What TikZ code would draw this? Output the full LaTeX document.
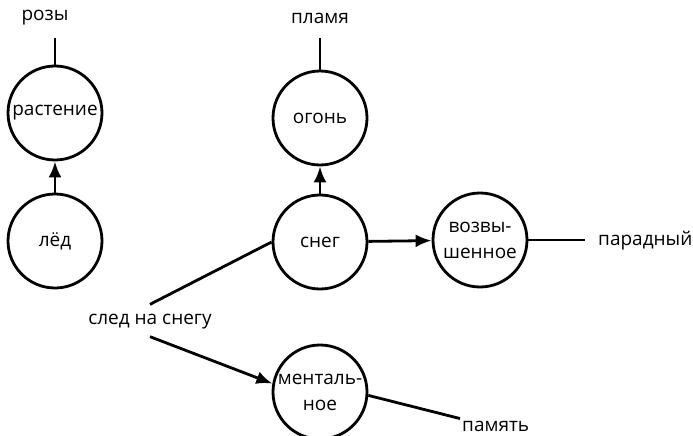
\documentclass[tikz,border=0pt]{standalone}
\usepackage{fontspec}
\setmainfont{Open Sans}
\usetikzlibrary{arrows.meta}
\tikzset{
    concept/.style={draw, circle, line width=2.8pt, minimum size=94pt, inner sep=0pt, align=center},
    word/.style={inner sep=2pt},
    link/.style={line width=2.8pt},
    arrowlink/.style={line width=2.8pt, -{Latex[length=16pt, width=13pt]}}
}
\begin{document}
\begin{tikzpicture}[x=1pt, y=-1pt, font=\fontsize{19}{26}\selectfont]
    \useasboundingbox (0,0) rectangle (693,436);
    % Draw the circles
    \node[concept] (rast) at (55,113) {растение};
    \node[concept] (led) at (55,241) {лёд};
    \node[concept] (ogon) at (320,118) {огонь};
    \node[concept] (sneg) at (320,242) {снег};
    \node[concept] (vozv) at (480,240) {возвы-\\шенное};
    \node[concept] (ment) at (320,392) {менталь-\\ное};
    % Add the free words
    \node[word] (rozy) at (45,18) {розы};
    \node[word] (plamya) at (320,18) {пламя};
    \node[word, anchor=west] (parad) at (596,241) {парадный};
    \node[word] (sled) at (150,322) {след на снегу};
    \node[word, anchor=west] (pamyat) at (460,426) {память};
    % Connect them
    \draw[arrowlink] (led) -- (rast);
    \draw[arrowlink] (sneg) -- (ogon);
    \draw[arrowlink] (sneg) -- (vozv);
    \draw[arrowlink] (sled.south) ++(0,5) coordinate (sledout) (sledout) -- (ment.170);
    \draw[link] (rast.north) -- (rast.north |- 0,38);
    \draw[link] (ogon.north) -- (ogon.north |- 0,38);
    \draw[link] (vozv) -- (vozv.east -| 585,0);
    \draw[link] (sled.north) ++(0,-8) coordinate (sledin) (sledin) -- (sneg.west);
    \draw[link] (ment.-4) -- (pamyat.north west);
\end{tikzpicture}
\end{document}
